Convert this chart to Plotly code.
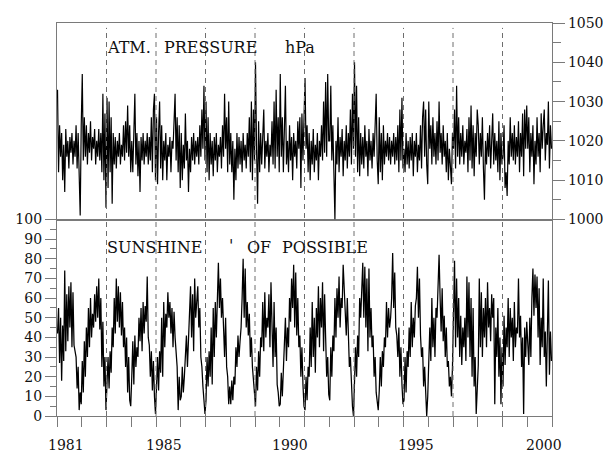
import plotly.graph_objects as go

# ---------------- data ----------------
start_year = 1981
per_year = 24          # two readings per month
year_ticks = list(range(1981, 2002))
dashed_years = [1983, 1985, 1987, 1989, 1991, 1993, 1995, 1997, 1999]
year_labels = ["1981", "1985", "1990", "1995", "2000"]
year_label_pos = [1981.36, 1985.31, 1990.42, 1995.49, 2000.68]

pressure_hpa = [
    1033, 1012, 1024, 1016, 1022, 1010, 1019, 1007, 1023, 1016, 1020, 1013, 1021, 1017, 1022, 1014, 1020, 1016, 1024, 1013, 1022, 1012, 1001, 1024,  # 1981
    1037, 1015, 1026, 1016, 1024, 1014, 1022, 1017, 1025, 1015, 1021, 1018, 1023, 1014, 1020, 1016, 1023, 1015, 1022, 1012, 1032, 1010, 1027, 1003,  # 1982
    1031, 1008, 1030, 1012, 1026, 1004, 1022, 1014, 1021, 1013, 1020, 1016, 1022, 1014, 1019, 1016, 1024, 1015, 1025, 1017, 1029, 1016, 1024, 1012,  # 1983
    1020, 1012, 1025, 1032, 1014, 1022, 1011, 1020, 1007, 1021, 1015, 1022, 1014, 1020, 1016, 1022, 1014, 1021, 1015, 1026, 1012, 1028, 1032, 1010,  # 1984
    1026, 1009, 1022, 1030, 1013, 1024, 1010, 1020, 1015, 1022, 1010, 1019, 1016, 1021, 1012, 1020, 1018, 1024, 1032, 1015, 1026, 1012, 1024, 1008,  # 1985
    1022, 1010, 1019, 1013, 1027, 1015, 1020, 1007, 1018, 1012, 1021, 1015, 1022, 1014, 1020, 1016, 1021, 1014, 1024, 1016, 1028, 1018, 1034, 1015,  # 1986
    1030, 1012, 1026, 1010, 1022, 1014, 1020, 1011, 1021, 1015, 1022, 1012, 1019, 1016, 1021, 1013, 1024, 1016, 1032, 1018, 1026, 1012, 1030, 1014,  # 1987
    1022, 1012, 1020, 1005, 1018, 1010, 1022, 1013, 1021, 1014, 1020, 1012, 1022, 1015, 1019, 1013, 1022, 1016, 1026, 1012, 1030, 1010, 1028, 1015,  # 1988
    1040, 1018, 1004, 1025, 1012, 1022, 1014, 1021, 1028, 1013, 1020, 1016, 1022, 1012, 1019, 1016, 1025, 1014, 1030, 1013, 1033, 1016, 1026, 1012,  # 1989
    1037, 1016, 1026, 1012, 1022, 1034, 1014, 1020, 1012, 1024, 1015, 1021, 1010, 1022, 1016, 1020, 1013, 1025, 1018, 1026, 1008, 1027, 1015, 1024,  # 1990
    1036, 1018, 1024, 1012, 1022, 1010, 1020, 1014, 1023, 1012, 1019, 1015, 1022, 1010, 1020, 1016, 1024, 1015, 1030, 1017, 1035, 1016, 1037, 1020,  # 1991
    1020, 1034, 1015, 1024, 1012, 1000, 1020, 1014, 1026, 1012, 1021, 1016, 1023, 1011, 1020, 1015, 1024, 1013, 1022, 1016, 1028, 1014, 1032, 1018,  # 1992
    1040, 1016, 1034, 1012, 1026, 1011, 1022, 1014, 1021, 1013, 1024, 1016, 1020, 1011, 1023, 1015, 1020, 1013, 1022, 1016, 1024, 1032, 1015, 1009,  # 1993
    1026, 1012, 1022, 1010, 1024, 1014, 1020, 1016, 1022, 1015, 1021, 1014, 1020, 1016, 1022, 1014, 1021, 1015, 1024, 1012, 1028, 1015, 1031, 1013,  # 1994
    1018, 1012, 1022, 1014, 1020, 1013, 1021, 1015, 1022, 1011, 1020, 1016, 1022, 1012, 1019, 1015, 1024, 1013, 1026, 1030, 1016, 1028, 1014, 1009,  # 1995
    1030, 1018, 1024, 1014, 1026, 1016, 1022, 1014, 1025, 1015, 1030, 1017, 1022, 1014, 1024, 1016, 1020, 1012, 1022, 1010, 1018, 1012, 1009, 1022,  # 1996
    1018, 1028, 1013, 1034, 1016, 1026, 1014, 1022, 1016, 1024, 1014, 1020, 1017, 1023, 1012, 1026, 1015, 1029, 1013, 1024, 1011, 1022, 1016, 1028,  # 1997
    1024, 1014, 1022, 1016, 1026, 1013, 1005, 1020, 1014, 1022, 1016, 1024, 1013, 1020, 1027, 1014, 1022, 1015, 1020, 1012, 1025, 1010, 1022, 1014,  # 1998
    1016, 1024, 1008, 1012, 1006, 1020, 1014, 1026, 1016, 1022, 1015, 1024, 1014, 1021, 1016, 1025, 1012, 1022, 1016, 1027, 1011, 1028, 1018, 1029,  # 1999
    1018, 1026, 1012, 1022, 1016, 1024, 1009, 1020, 1014, 1026, 1016, 1022, 1012, 1027, 1018, 1024, 1028, 1015, 1022, 1019, 1030, 1013, 1024, 1018,  # 2000
]

sunshine_pct = [
    42, 55, 27, 50, 18, 46, 28, 74, 33, 62, 38, 66, 45, 68, 35, 63, 36, 33, 30, 14, 25, 3, 12, 6,   # 1981
    28, 12, 38, 20, 45, 30, 55, 35, 60, 40, 52, 45, 62, 48, 66, 50, 70, 44, 60, 25, 48, 15, 30, 3,  # 1982
    18, 30, 14, 33, 22, 45, 35, 60, 42, 70, 48, 66, 45, 63, 41, 58, 35, 45, 25, 40, 12, 30, 8, 5,   # 1983
    20, 38, 16, 41, 25, 35, 30, 50, 38, 55, 33, 58, 42, 56, 48, 71, 40, 36, 20, 33, 13, 28, 10, 1,  # 1984
    15, 30, 13, 33, 22, 50, 20, 58, 35, 52, 45, 63, 50, 58, 42, 55, 35, 53, 40, 33, 25, 3, 20, 8,   # 1985
    10, 25, 12, 20, 30, 41, 25, 38, 45, 66, 40, 62, 33, 70, 50, 60, 66, 45, 55, 30, 25, 15, 8, 1,   # 1986
    8, 30, 15, 33, 20, 45, 16, 55, 30, 58, 40, 65, 78, 55, 70, 50, 60, 45, 30, 50, 25, 20, 6, 15,   # 1987
    6, 18, 8, 20, 16, 35, 25, 41, 30, 38, 45, 60, 80, 50, 75, 45, 58, 41, 52, 30, 40, 25, 18, 8,    # 1988
    5, 25, 13, 33, 20, 40, 35, 58, 33, 63, 40, 50, 45, 62, 35, 68, 50, 25, 58, 30, 45, 16, 12, 5,   # 1989
    6, 22, 10, 25, 30, 50, 28, 45, 35, 60, 48, 70, 55, 77, 45, 73, 41, 60, 35, 41, 20, 35, 16, 5,   # 1990
    3, 20, 8, 25, 20, 45, 25, 58, 30, 50, 22, 55, 40, 66, 35, 60, 45, 68, 33, 62, 40, 20, 30, 11,   # 1991
    8, 35, 20, 41, 33, 60, 40, 65, 50, 71, 45, 60, 55, 77, 65, 50, 41, 60, 35, 25, 30, 12, 5, 0,    # 1992
    16, 35, 20, 41, 30, 60, 50, 65, 78, 50, 76, 45, 70, 33, 75, 40, 55, 35, 41, 20, 30, 12, 8, 3,   # 1993
    13, 30, 15, 33, 25, 40, 35, 58, 40, 55, 45, 50, 60, 83, 55, 73, 45, 41, 30, 45, 20, 35, 16, 6,  # 1994
    8, 30, 12, 33, 25, 45, 30, 58, 35, 50, 40, 56, 60, 76, 50, 70, 41, 30, 35, 15, 25, 8, 0, 10,    # 1995
    23, 45, 28, 60, 35, 50, 30, 55, 50, 68, 82, 60, 43, 65, 38, 51, 30, 45, 25, 28, 15, 20, 10, 25, # 1996
    45, 79, 35, 70, 40, 60, 30, 51, 26, 45, 35, 50, 28, 71, 40, 68, 30, 60, 20, 55, 15, 30, 1, 20,  # 1997
    26, 70, 35, 63, 30, 55, 40, 60, 35, 68, 45, 55, 38, 62, 50, 60, 6, 45, 30, 55, 20, 40, 6, 35,   # 1998
    15, 51, 26, 45, 35, 60, 30, 55, 40, 50, 28, 58, 35, 45, 42, 70, 40, 51, 25, 40, 1, 45, 30, 48,  # 1999
    35, 26, 50, 30, 60, 75, 51, 72, 55, 71, 40, 65, 26, 50, 35, 70, 30, 43, 15, 35, 69, 21, 43, 28, # 2000
]

# time index (decimal years, centre of each half-month)
t_pressure = [start_year + (i + 0.5) / per_year for i in range(len(pressure_hpa))]
t_sunshine = [start_year + (i + 0.5) / per_year for i in range(len(sunshine_pct))]

# ---------------- styling ----------------
FONT = "DejaVu Serif"
AX = "#7a7a7a"
PAGE_OFFSET = 8                      # default body margin of the html page
W, H = 611 - PAGE_OFFSET, 454 - PAGE_OFFSET
# plot area wanted on screen: x 54..555, y 15..416
PL, PR, PT, PB = 54, 555, 15, 416
ML = PL - PAGE_OFFSET
MR = W - (PR - PAGE_OFFSET)
MT = PT - PAGE_OFFSET
MB = H - (PB - PAGE_OFFSET)


def px_to_paper_x(px):
    return (px - PL) / (PR - PL)


def px_to_paper_y(py):
    return (PB - py) / (PB - PT)


fig = go.Figure()
fig.add_trace(go.Scatter(x=t_sunshine, y=sunshine_pct, mode="lines",
                         line=dict(color="black", width=1.25),
                         xaxis="x", yaxis="y", hoverinfo="skip"))
fig.add_trace(go.Scatter(x=t_pressure, y=pressure_hpa, mode="lines",
                         line=dict(color="black", width=1.2),
                         xaxis="x2", yaxis="y2", hoverinfo="skip"))

common_line = dict(showline=True, linecolor=AX, linewidth=1.2, mirror=True,
                   showgrid=False, zeroline=False)

fig.update_layout(
    width=W, height=H,
    margin=dict(l=ML, r=MR, t=MT, b=MB),
    paper_bgcolor="white", plot_bgcolor="white",
    showlegend=False,
    font=dict(family=FONT, size=14, color="#111111"),
    xaxis=dict(domain=[0, 1], anchor="y", range=[1981, 2001],
               tickmode="array", tickvals=year_ticks, ticks="outside",
               ticklen=10, tickcolor=AX, tickwidth=1.2,
               showticklabels=False, **common_line),
    xaxis2=dict(domain=[0, 1], anchor="y2", matches="x", range=[1981, 2001],
                showticklabels=False, ticks="", **common_line),
    yaxis=dict(domain=[0, 0.5], anchor="x", range=[0, 100],
               tickmode="array", tickvals=list(range(0, 101, 10)),
               ticks="outside", ticklen=11, tickcolor=AX, tickwidth=1.2,
               minor=dict(tickmode="array", tickvals=list(range(5, 100, 10)),
                          ticks="outside", ticklen=6, tickcolor=AX, tickwidth=1.2),
               tickfont=dict(family=FONT, size=14), **common_line),
    yaxis2=dict(domain=[0.5, 1], anchor="x2", side="right", range=[1000, 1050],
                tickmode="array", tickvals=list(range(1000, 1051, 10)),
                ticks="outside", ticklen=12, tickcolor=AX, tickwidth=1.2,
                minor=dict(tickmode="array", tickvals=list(range(1005, 1050, 10)),
                           ticks="outside", ticklen=8, tickcolor=AX, tickwidth=1.2),
                tickfont=dict(family=FONT, size=14), **common_line),
)

# dashed vertical markers
for yr in dashed_years:
    fig.add_shape(type="line", xref="x", yref="paper", x0=yr, x1=yr,
                  y0=0, y1=px_to_paper_y(20),
                  line=dict(color="#6e6e6e", width=1, dash="5px,4px"))

# year labels under the axis
for lab, pos in zip(year_labels, year_label_pos):
    fig.add_annotation(x=pos, xref="x", y=px_to_paper_y(446), yref="paper",
                       text=lab, showarrow=False, xanchor="center", yanchor="middle",
                       font=dict(family=FONT, size=14, color="#111111"))

# panel captions
captions = [
    ("ATM.", 103, 40), ("PRESSURE", 160, 40), ("hPa", 283, 40),
    ("SUNSHINE", 103, 244), ("'", 226, 242), ("OF", 244, 244), ("POSSIBLE", 280, 244),
]
for txt, px, py in captions:
    fig.add_annotation(x=px_to_paper_x(px), xref="paper", y=px_to_paper_y(py), yref="paper",
                       text=txt, showarrow=False, xanchor="left", yanchor="middle",
                       font=dict(family=FONT, size=16, color="#111111"))

fig.write_html("out.html")
